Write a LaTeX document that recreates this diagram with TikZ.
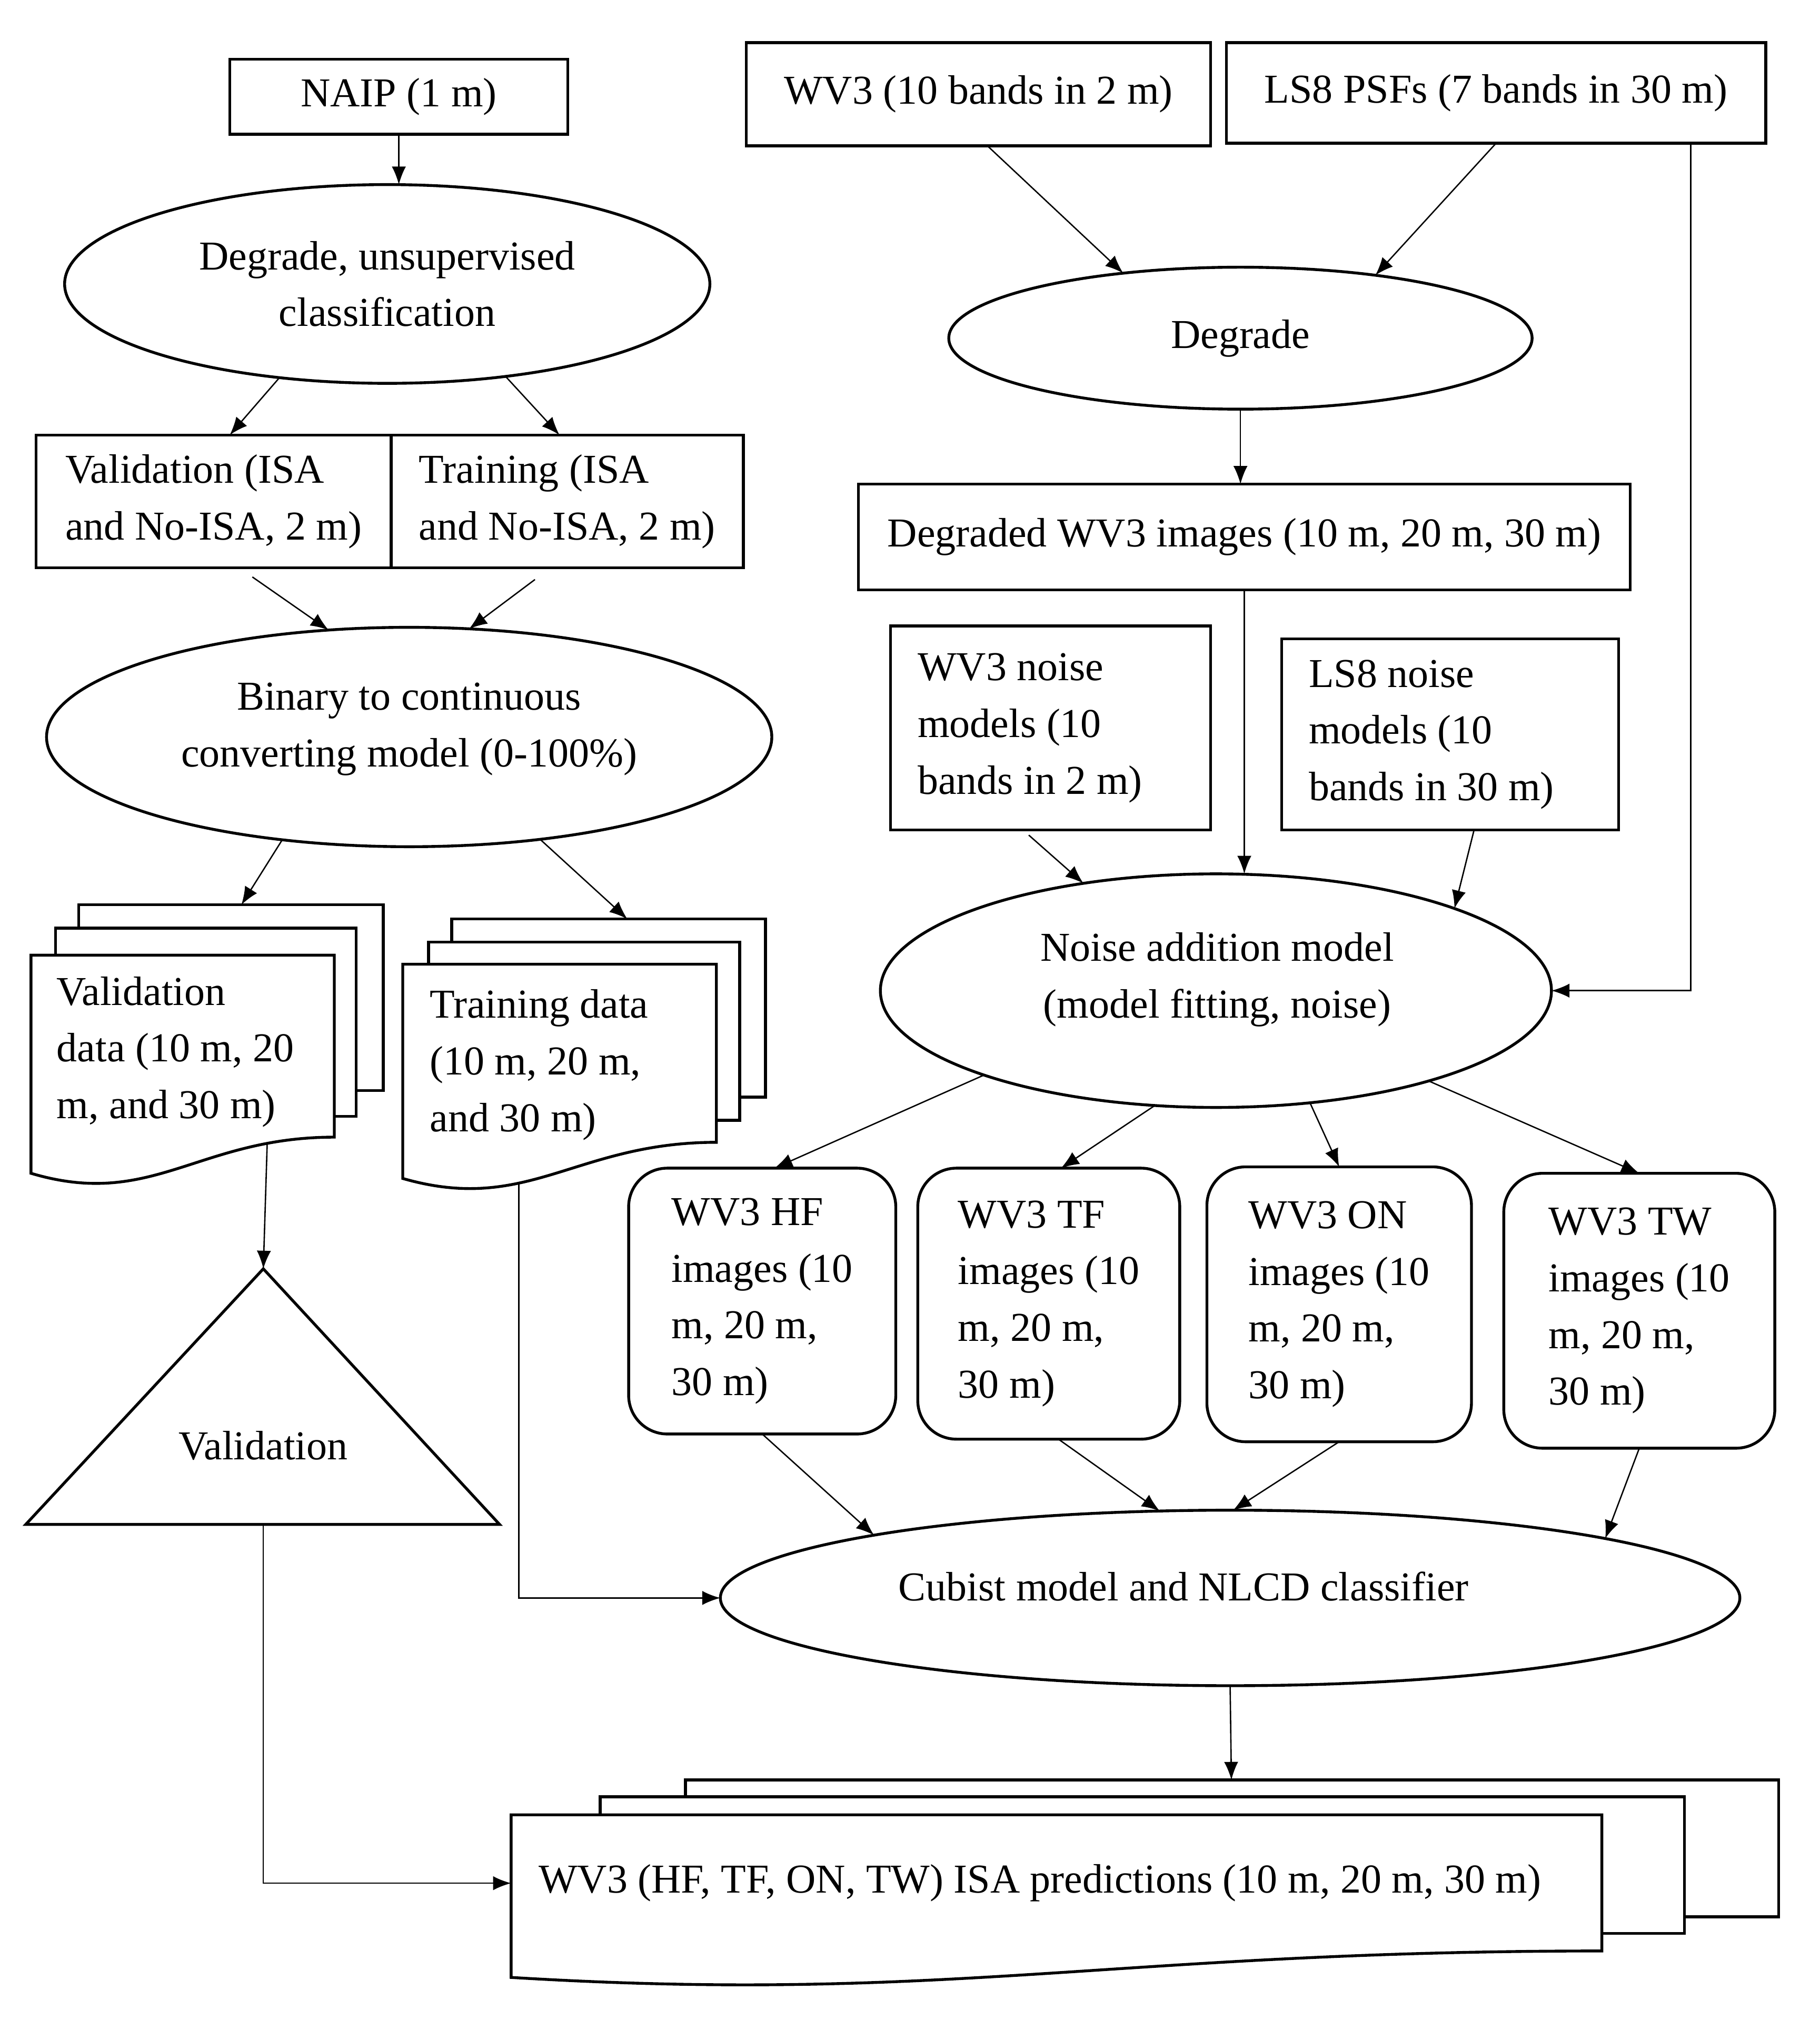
\documentclass[tikz,border=0pt]{standalone}
\usepackage{fontspec}
\setmainfont{Liberation Serif}
\usetikzlibrary{positioning,calc,shapes.geometric,arrows.meta}

% stacked sheets: back sheets are plain, the front one has a wavy bottom
\newcommand{\sheetback}[4]{%
	\draw[sheet] (#1,#2) rectangle (#1+#3,#2+#4);}
\newcommand{\sheetfront}[5]{%
	\draw[sheet] (#1,#2) -- (#1+#3,#2) -- (#1+#3,#2+#4)
	.. controls (#1+0.55*#3,#2+#4) and (#1+0.4*#3,#2+#4+2*#5) .. (#1,#2+#4+#5) -- cycle;}

\begin{document}
\begin{tikzpicture}[x=0.02cm,y=-0.02cm,>={Latex[length=0.28cm,width=0.22cm]}]
	
	\tikzset{
		every node/.style={font=\fontsize{18.1}{25}\selectfont},
		box/.style={draw=black, line width=1.25pt, align=center, inner sep=0pt, outer sep=0pt},
		tbox/.style={draw=black, line width=1.25pt, align=flush left, inner xsep=0.42cm, inner ysep=0pt, outer sep=0pt},
		rbox/.style={draw=black, line width=1.25pt, rounded corners=0.6cm, align=left, inner sep=0pt, outer sep=0pt},
		oval/.style={draw=black, ellipse, line width=1.25pt, align=center, inner sep=0pt, outer sep=0pt},
		txt/.style={align=center, inner sep=0pt},
		sheet/.style={draw=black, line width=1.25pt, fill=white},
		arr/.style={->, line width=0.6pt}
	}
	
	\useasboundingbox (0,0) rectangle (1410,1565);
	
	% ===== LEFT COLUMN: NAIP -> TRAINING / VALIDATION DATA =====
	\node[box, minimum width=5.24cm, minimum height=1.16cm] (naip) at (309,75) {NAIP (1 m)};
	
	\node[oval, minimum width=10cm, minimum height=3.08cm] (deg1) at (300,220)
	{Degrade, unsupervised\\classification};
	
	\node[box, align=left, minimum width=5.5cm, minimum height=2.06cm] (valbox) at (165.5,388.5)
	{Validation (ISA\\and No-ISA, 2 m)};
	\node[box, align=left, minimum width=5.46cm, minimum height=2.06cm, anchor=west] (trainbox)
	at (valbox.east) {Training (ISA\\and No-ISA, 2 m)};
	
	\node[oval, minimum width=11.24cm, minimum height=3.4cm] (bin) at (317,571) {};
	\node[txt] (bintxt) at (317,565) {Binary to continuous\\converting model (0-100\%)};
	
	% ===== STACKED DATA SHEETS =====
	\sheetback{61}{701}{236}{144}
	\sheetback{43}{719}{233}{146}
	\sheetfront{24}{740}{235}{141}{28}
	\node[tbox, draw=none, inner xsep=0.4cm, text width=3.9cm] (valdata) at (141.5,815)
	{Validation\\data (10 m, 20\\m, and 30 m)};
	\coordinate (valdata-in) at (187,701);
	\coordinate (valdata-out) at (207,886);
	
	\sheetback{350}{712}{243}{138}
	\sheetback{332}{730}{241}{138}
	\sheetfront{312}{747}{243}{138}{28}
	\node[tbox, draw=none, text width=4.02cm] (traindata) at (433.5,825)
	{Training data\\(10 m, 20 m,\\and 30 m)};
	\coordinate (traindata-in) at (486,712);
	\coordinate (traindata-out) at (402,917);
	
	% ===== VALIDATION TRIANGLE =====
	\draw[line width=1.25pt] (204,983) -- (387,1181) -- (20,1181) -- cycle;
	\node (valtri) at (204,1120) {Validation};
	\coordinate (tri-top) at (204,983);
	\coordinate (tri-bot) at (204,1181);
	
	% ===== RIGHT COLUMN: WV3 / LS8 -> NOISE MODEL =====
	\node[box, minimum width=7.2cm, minimum height=1.6cm] (wv3) at (758,73) {WV3 (10 bands in 2 m)};
	\node[box, minimum width=8.36cm, minimum height=1.56cm] (ls8) at (1159,72) {LS8 PSFs (7 bands in 30 m)};
	
	\node[oval, minimum width=9.04cm, minimum height=2.2cm] (deg2) at (961,262) {Degrade};
	
	\node[box, minimum width=11.96cm, minimum height=1.64cm] (degwv3) at (964,416)
	{Degraded WV3 images (10 m, 20 m, 30 m)};
	
	\node[tbox, text width=4.12cm, minimum height=3.16cm] (wv3noise) at (814,564)
	{WV3 noise\\models (10\\bands in 2 m)};
	\node[tbox, text width=4.38cm, minimum height=2.96cm] (ls8noise) at (1123.5,569)
	{LS8 noise\\models (10\\bands in 30 m)};
	
	\node[oval, minimum width=10.4cm, minimum height=3.62cm] (noise) at (942,767.5) {};
	\node[txt] (noisetxt) at (943,759) {Noise addition model\\(model fitting, noise)};
	
	% ===== NOISY IMAGE SETS =====
	\node[rbox, minimum width=4.14cm, minimum height=4.12cm] (hfimg) at (590.5,1008)
	{WV3 HF\\images (10\\m, 20 m,\\30 m)};
	\node[rbox, minimum width=4.06cm, minimum height=4.2cm] (tfimg) at (812.5,1010)
	{WV3 TF\\images (10\\m, 20 m,\\30 m)};
	\node[rbox, minimum width=4.1cm, minimum height=4.26cm] (onimg) at (1037.5,1010.5)
	{WV3 ON\\images (10\\m, 20 m,\\30 m)};
	\node[rbox, minimum width=4.2cm, minimum height=4.26cm] (twimg) at (1270,1015.5)
	{WV3 TW\\images (10\\m, 20 m,\\30 m)};
	
	\node[oval, minimum width=15.8cm, minimum height=2.72cm] (cubist) at (953,1238) {};
	\node[txt] (cubisttxt) at (917,1229) {Cubist model and NLCD classifier};
	
	% ===== PREDICTIONS =====
	\sheetback{531}{1379}{847}{106}
	\sheetback{465}{1392}{840}{106}
	\sheetfront{396}{1406}{845}{105.5}{20.5}
	\node[anchor=west, inner xsep=0.42cm, inner ysep=0pt] (preds) at (396,1459)
	{WV3 (HF, TF, ON, TW) ISA predictions (10 m, 20 m, 30 m)};
	\coordinate (preds-in) at (954,1379);
	
	% ===== ARROWS (LEFT) =====
	\draw[arr] (naip.south) -- (naip.south |- deg1.north);
	\draw[arr] (deg1.-139) -- ([xshift=0.25cm]valbox.north);
	\draw[arr] (deg1.-38) -- ([xshift=-0.12cm]trainbox.north);
	\draw[arr] ([xshift=0.6cm,yshift=-0.14cm]valbox.south) -- (bin.127);
	\draw[arr] ([xshift=-0.5cm,yshift=-0.18cm]trainbox.south) -- (bin.61);
	\draw[arr] (bin.-141) -- (valdata-in);
	\draw[arr] (bin.-38) -- (traindata-in);
	\draw[arr] (valdata-out) -- (tri-top);
	\draw[arr] (traindata-out) |- (cubist.west);
	\draw[arr] (tri-bot) |- (preds.west);
	
	% ===== ARROWS (RIGHT) =====
	\draw[arr] ([xshift=0.14cm]wv3.south) -- (deg2.151);
	\draw[arr] (ls8.south) -- (deg2.25);
	\draw[arr] (deg2.south) -- (deg2.south |- degwv3.north);
	\draw[arr] (degwv3.south) -- (degwv3.south |- noise.north);
	\draw[arr] ([xshift=-1.16cm]ls8.south east) |- (noise.east);
	\draw[arr] ([xshift=-0.34cm,yshift=-0.08cm]wv3noise.south) -- (noise.141);
	\draw[arr] ([xshift=0.37cm]ls8noise.south) -- (noise.19);
	
	\draw[arr] (noise.200) -- ([xshift=0.19cm]hfimg.north);
	\draw[arr] (noise.-118) -- ([xshift=0.19cm]tfimg.north);
	\draw[arr] (noise.-50) -- (onimg.north);
	\draw[arr] (noise.-23) -- (twimg.north);
	
	\draw[arr] (hfimg.south) -- (cubist.170);
	\draw[arr] ([xshift=0.15cm]tfimg.south) -- (cubist.129);
	\draw[arr] (onimg.south) -- (cubist.88);
	\draw[arr] (twimg.south) -- (cubist.9);
	\draw[arr] (cubist.south) -- (preds-in);
	
\end{tikzpicture}
\end{document}
